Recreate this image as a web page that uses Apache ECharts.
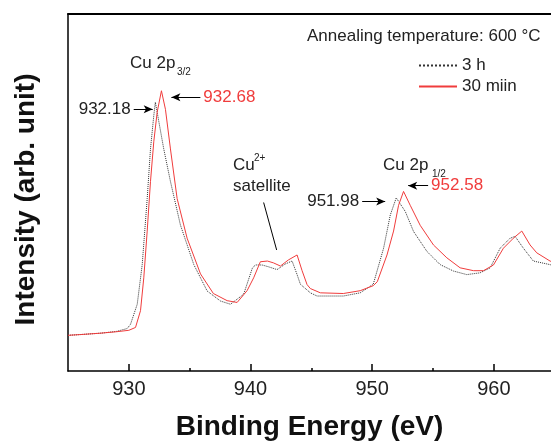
<!DOCTYPE html>
<html>
<head>
<meta charset="utf-8">
<script src="https://cdn.jsdelivr.net/npm/echarts@6/dist/echarts.min.js"></script>
<style>
  html, body { margin: 0; padding: 0; background: #fff; }
  #chart { width: 551px; height: 446px; }
</style>
</head>
<body>
<div id="chart"></div>
<script>
// binding energy (eV) and intensity (arb., 0..100 plot height)
const energy3h = [925.0, 926.0, 927.7, 929.0, 929.87, 930.14, 930.69, 931.10, 931.51, 931.78, 932.05, 932.18,
  932.87, 933.42, 934.24, 935.34, 936.44, 937.53, 938.35, 939.44, 939.75, 940.16, 940.41, 940.95, 941.47,
  942.18, 942.87, 943.42, 943.83, 944.10, 944.92, 945.47, 947.63, 949.02, 950.09, 950.94, 951.49, 951.98,
  952.72, 953.40, 954.50, 955.59, 956.68, 957.78, 958.87, 959.70, 960.52, 961.34, 961.75, 962.43, 963.25,
  964.62, 964.7]
const intensity3h = [10.0, 10.2, 10.6, 11.1, 11.9, 13.1, 18.7, 29.8, 48.3, 62.2, 71.5, 75.3,
  62.2, 53.1, 40.9, 29.8, 22.4, 19.6, 18.7, 21.5, 24.7, 28.9, 29.7, 29.7, 29.2,
  28.4, 30.0, 30.8, 27.0, 24.3, 21.9, 21.0, 21.0, 21.9, 24.3, 34.4, 43.7, 48.5,
  44.7, 39.1, 33.5, 29.8, 28.0, 27.0, 27.5, 28.9, 34.4, 37.2, 37.7, 34.4, 30.8,
  29.8, 29.7]

const energy30m = [925.0, 926.0, 927.7, 929.0, 930.0, 930.55, 930.96, 931.23, 931.51, 931.78, 932.05, 932.33,
  932.68, 933.01, 933.42, 933.97, 934.79, 935.89, 936.95, 938.08, 938.90, 939.72, 940.26, 940.81, 941.39,
  941.88, 942.46, 943.11, 943.83, 944.24, 944.65, 944.92, 945.74, 947.63, 949.02, 950.09, 950.42, 951.22,
  951.76, 952.17, 952.58, 953.13, 953.95, 955.04, 956.14, 957.23, 958.33, 959.15, 959.97, 960.79, 961.61,
  962.30, 962.98, 963.53, 964.62, 964.7]
const intensity30m = [10.0, 10.2, 10.6, 11.0, 11.4, 12.2, 16.9, 26.1, 39.2, 53.1, 64.2, 72.5,
  78.5, 73.3, 62.2, 48.3, 37.2, 27.2, 21.7, 19.7, 19.2, 22.5, 26.1, 30.6, 30.8,
  30.3, 29.4, 31.1, 32.5, 28.1, 24.2, 23.1, 21.9, 21.7, 22.5, 23.9, 25.0, 32.5,
  39.2, 46.4, 50.3, 46.4, 40.8, 35.3, 31.7, 28.9, 28.1, 28.1, 29.7, 34.4, 37.2,
  39.2, 35.3, 33.1, 30.8, 30.7]

const majorTicks = [930, 940, 950, 960]
const minorTicks = [935, 945, 955]

const FONT = '"Liberation Sans", Arial, sans-serif'
const RED = '#f03c3c'

function pairs(xs, ys) {
  return xs.map((x, i) => [x, ys[i]])
}

// arrow from a label toward a peak, in data coords
function arrow(from, to, text, color) {
  return [
    { coord: from, label: { show: true, position: 'start', formatter: text, color: color, fontSize: 17, fontFamily: FONT, distance: 3 } },
    { coord: to }
  ]
}

const chart = echarts.init(document.getElementById('chart'))

const option = {
  animation: false,
  grid: { left: 68, top: 14, right: 0, bottom: 72 },
  legend: {
    orient: 'vertical',
    left: 418, top: 57,
    padding: 0,
    itemWidth: 38, itemHeight: 14, itemGap: 4,
    itemStyle: { opacity: 0 },
    textStyle: { fontSize: 17, fontFamily: FONT, color: '#222' },
    data: ['3 h', '30 miin']
  },
  xAxis: [
    {
      type: 'value', min: 925, max: 964.7, position: 'bottom',
      axisLine: { lineStyle: { color: '#000', width: 1.5 } },
      axisTick: { inside: true, length: 7, customValues: majorTicks, lineStyle: { color: '#000', width: 1.5 } },
      axisLabel: { customValues: majorTicks, fontSize: 20, fontFamily: FONT, color: '#222', margin: 8 },
      splitLine: { show: false },
      name: 'Binding Energy (eV)',
      nameLocation: 'middle', nameGap: 42,
      nameTextStyle: { fontSize: 28, fontWeight: 'bold', fontFamily: FONT, color: '#111' }
    },
    {
      type: 'value', min: 925, max: 964.7, position: 'bottom',
      axisLine: { show: false },
      axisTick: { inside: true, length: 3, customValues: minorTicks, lineStyle: { color: '#000', width: 1.5 } },
      axisLabel: { show: false },
      splitLine: { show: false }
    },
    {
      // top frame line only
      type: 'value', min: 925, max: 964.7, position: 'top',
      axisLine: { lineStyle: { color: '#000', width: 2 } },
      axisTick: { show: false },
      axisLabel: { show: false },
      splitLine: { show: false }
    }
  ],
  yAxis: {
    type: 'value', min: 0, max: 100,
    axisLine: { show: true, lineStyle: { color: '#000', width: 1.5 } },
    axisTick: { show: false },
    axisLabel: { show: false },
    splitLine: { show: false },
    name: 'Intensity (arb. unit)',
    nameLocation: 'middle', nameGap: 28,
    nameTextStyle: { fontSize: 28, fontWeight: 'bold', fontFamily: FONT, color: '#111', padding: [0, 14, 0, 0] }
  },
  series: [
    {
      name: '3 h', type: 'line', symbol: 'none',
      data: pairs(energy3h, intensity3h),
      lineStyle: { color: '#333', width: 1, type: 'dotted' },
      itemStyle: { color: '#333' },
      markLine: {
        silent: true,
        symbol: ['none', 'arrow'], symbolSize: [6, 9],
        lineStyle: { color: '#000', type: 'solid', width: 1 },
        data: [
          arrow([930.40, 73.3], [931.96, 73.3], '932.18', '#222'),
          arrow([935.88, 76.7], [933.50, 76.7], '932.68', RED),
          arrow([949.18, 47.5], [951.07, 47.5], '951.98', '#222'),
          arrow([954.60, 51.9], [952.96, 51.9], '952.58', RED),
          [
            { coord: [941.08, 47.2], symbol: 'none', label: { show: false } },
            { coord: [942.15, 33.9], symbol: 'none' }
          ]
        ]
      }
    },
    {
      name: '30 miin', type: 'line', symbol: 'none',
      data: pairs(energy30m, intensity30m),
      lineStyle: { color: RED, width: 1 },
      itemStyle: { color: RED }
    }
  ],
  graphic: [
    { type: 'text', x: 307, y: 36, style: { text: 'Annealing temperature: 600 °C', fontSize: 17, fontFamily: FONT, fill: '#222', verticalAlign: 'middle' } },
    { type: 'text', x: 130, y: 63, style: { text: 'Cu 2p', fontSize: 17, fontFamily: FONT, fill: '#222', verticalAlign: 'middle' } },
    { type: 'text', x: 177, y: 72, style: { text: '3/2', fontSize: 10, fontFamily: FONT, fill: '#222', verticalAlign: 'middle' } },
    { type: 'text', x: 233, y: 165, style: { text: 'Cu', fontSize: 17, fontFamily: FONT, fill: '#222', verticalAlign: 'middle' } },
    { type: 'text', x: 254, y: 158, style: { text: '2+', fontSize: 10, fontFamily: FONT, fill: '#222', verticalAlign: 'middle' } },
    { type: 'text', x: 233, y: 186, style: { text: 'satellite', fontSize: 17, fontFamily: FONT, fill: '#222', verticalAlign: 'middle' } },
    { type: 'text', x: 383, y: 165, style: { text: 'Cu 2p', fontSize: 17, fontFamily: FONT, fill: '#222', verticalAlign: 'middle' } },
    { type: 'text', x: 432, y: 174, style: { text: '1/2', fontSize: 10, fontFamily: FONT, fill: '#222', verticalAlign: 'middle' } }
  ]
}

chart.setOption(option)
</script>
</body>
</html>
